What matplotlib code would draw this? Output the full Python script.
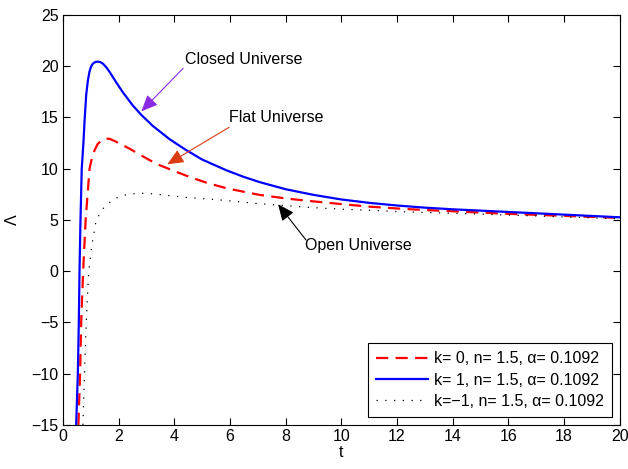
import numpy as np
import matplotlib
matplotlib.use("Agg")
import matplotlib.pyplot as plt

plt.rcParams['font.family'] = ['Liberation Sans', 'DejaVu Sans']
plt.rcParams['font.size'] = 11.5

# k = 1 (closed)
t_closed = [0.48, 0.54, 0.575, 0.60, 0.635, 0.68, 0.74, 0.78, 0.84, 0.90, 0.96, 1.02,
            1.08, 1.17, 1.26, 1.35, 1.44, 1.56, 1.68, 1.92, 2.15, 2.51, 2.82,
            3.23, 3.83, 4.37, 5.0, 5.87, 6.5, 7.06, 8.0, 9.0, 10.0, 11.0, 12.0,
            13.0, 14.0, 15.0, 16.0, 17.0, 18.0, 19.0, 20.0]
lam_closed = [-15, -10, -5, 0, 5, 10, 12.5, 14.6, 17.2, 18.6, 19.5, 20.0,
              20.25, 20.42, 20.45, 20.4, 20.25, 19.9, 19.45, 18.42, 17.48, 16.18, 15.25,
              14.18, 12.89, 11.92, 10.9, 9.85, 9.2, 8.7, 8.0, 7.45, 7.0, 6.67, 6.41,
              6.2, 6.04, 5.91, 5.78, 5.65, 5.52, 5.39, 5.26]

# k = 0 (flat)
t_flat = [0.56, 0.62, 0.66, 0.73, 0.82, 0.96, 1.05, 1.14, 1.25, 1.4, 1.56, 1.7, 1.9,
          2.15, 2.4, 2.75, 3.11, 3.47, 4.07, 4.6, 5.2, 5.87, 6.5, 7.06, 8.0, 8.86,
          10.0, 11.0, 12.0, 13.0, 14.0, 15.0, 16.0, 17.0, 18.0, 19.0, 20.0]
lam_flat = [-15, -10, -5, 0, 5, 10, 11.1, 11.8, 12.4, 12.8, 12.95, 12.9, 12.65,
            12.3, 11.95, 11.4, 10.85, 10.35, 9.7, 9.15, 8.6, 8.1, 7.75, 7.45, 7.1, 6.85,
            6.55, 6.3, 6.12, 5.97, 5.85, 5.72, 5.6, 5.5, 5.4, 5.3, 5.2]

# k = -1 (open)
t_open = [0.72, 0.75, 0.78, 0.84, 0.93, 1.04, 1.2, 1.44, 1.8, 2.15, 2.5, 2.87, 3.2,
          3.59, 4.43, 5.2, 5.87, 7.0, 8.26, 9.0, 10.0, 11.0, 12.0, 14.0, 16.0, 18.0, 20.0]
lam_open = [-15, -12.5, -10, -5, 0, 2.5, 5, 6.1, 7.0, 7.4, 7.55, 7.6, 7.55,
            7.45, 7.2, 7.05, 6.9, 6.6, 6.35, 6.2, 6.05, 5.95, 5.82, 5.65, 5.48, 5.3, 5.12]

labels = ['k= 0, n= 1.5, \u03b1= 0.1092',
          'k= 1, n= 1.5, \u03b1= 0.1092',
          'k=\u22121, n= 1.5, \u03b1= 0.1092']

fig = plt.figure(figsize=(6.28, 4.69), dpi=100)
ax = fig.add_axes([0.100, 0.094, 0.887, 0.874])

ax.plot(t_flat, lam_flat, color='red', lw=1.6, dashes=(5.5, 3.3), label=labels[0])
ax.plot(t_closed, lam_closed, color='blue', lw=1.6, label=labels[1])
ax.plot(t_open, lam_open, color='black', lw=0.9, dashes=(1, 6), label=labels[2])

ax.set_xlim(0, 20)
ax.set_ylim(-15, 25)
ax.set_xticks(np.arange(0, 21, 2))
ax.set_yticks(np.arange(-15, 26, 5))
ax.set_yticklabels([str(v).replace('-', '\u2212') for v in range(-15, 26, 5)])
ax.tick_params(direction='in', top=True, right=True, length=5, width=0.8,
               labelsize=11.5, pad=3)
for s in ax.spines.values():
    s.set_linewidth(0.8)
ax.set_xlabel('t', labelpad=1)
ax.set_ylabel('\u039b', labelpad=8)

leg = ax.legend(loc='lower right', handlelength=3.3, fancybox=False, edgecolor='black',
                framealpha=1, borderpad=0.5, labelspacing=0.4, borderaxespad=0.5,
                handletextpad=0.35, fontsize=11.5)
leg.get_frame().set_linewidth(0.8)

# annotations
head = '-|>,head_length=0.5,head_width=0.22'
ax.annotate('', xy=(2.82, 15.6), xytext=(4.32, 19.8),
            arrowprops=dict(arrowstyle=head, mutation_scale=20, color='#8a2be2',
                            lw=0.8, shrinkA=0, shrinkB=0))
ax.text(4.38, 20.7, 'Closed Universe', va='center', ha='left')

ax.annotate('', xy=(3.75, 10.43), xytext=(5.97, 14.04),
            arrowprops=dict(arrowstyle=head, mutation_scale=20, color='#dc3c14',
                            lw=0.8, shrinkA=0, shrinkB=0))
ax.text(5.96, 14.95, 'Flat Universe', va='center', ha='left')

ax.annotate('', xy=(7.73, 6.53), xytext=(8.73, 3.05),
            arrowprops=dict(arrowstyle=head, mutation_scale=20, color='black',
                            lw=0.8, shrinkA=0, shrinkB=0))
ax.text(8.69, 2.46, 'Open Universe', va='center', ha='left')

fig.savefig('out.png', dpi=100)
